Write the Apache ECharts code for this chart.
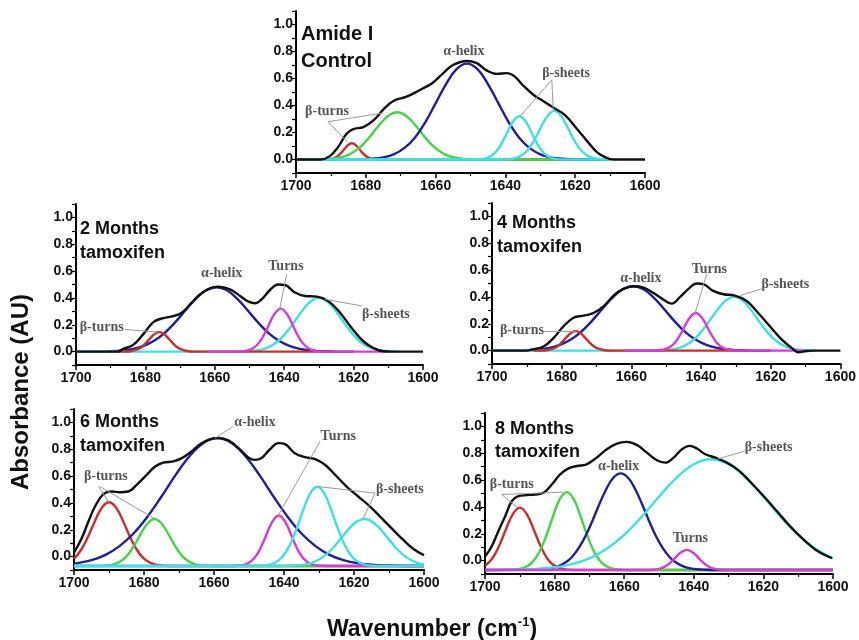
<!DOCTYPE html>
<html lang="en">
<head>
<meta charset="UTF-8">
<title>Amide I band fitting</title>
<style>
  html, body { margin: 0; padding: 0; background: #fff; }
  #main { width: 859px; height: 640px; }
</style>
</head>
<body>
<div id="main"></div>
<script src="https://cdn.jsdelivr.net/npm/echarts@6/dist/echarts.min.js"></script>
<script>
// ---- data: [wavenumber, absorbance] ----

// Amide I, control
const ctrlRed = [[1700,0],[1690,0],[1689,0.01],[1688,0.026],[1687,0.051],[1686,0.082],[1685,0.109],[1684,0.12],[1683,0.109],[1682,0.082],[1681,0.051],[1680,0.026],[1679,0.011],[1678,0.003],[1676,0],[1610,0]];
const ctrlGreen = [[1700,0],[1693,0.001],[1691,0.003],[1689,0.008],[1687,0.017],[1685,0.034],[1683,0.064],[1681,0.107],[1679,0.164],[1677,0.229],[1675,0.289],[1673,0.334],[1671,0.35],[1669,0.334],[1667,0.289],[1665,0.229],[1663,0.164],[1661,0.107],[1659,0.064],[1657,0.034],[1655,0.017],[1653,0.008],[1651,0.003],[1648,0],[1610,0]];
const ctrlBlue = [[1700,0],[1681,0.002],[1678,0.006],[1675,0.016],[1672,0.038],[1669,0.084],[1666,0.16],[1663,0.274],[1660,0.416],[1657,0.559],[1654,0.669],[1651,0.71],[1648,0.669],[1645,0.559],[1642,0.416],[1639,0.274],[1636,0.16],[1633,0.084],[1630,0.038],[1627,0.016],[1624,0.006],[1621,0.002],[1610,0]];
const ctrlCyan1 = [[1700,0],[1650,0],[1648,0.001],[1646,0.007],[1644,0.027],[1642,0.08],[1640,0.172],[1638,0.274],[1636,0.32],[1634,0.274],[1632,0.172],[1630,0.08],[1628,0.027],[1626,0.007],[1624,0.001],[1610,0]];
const ctrlCyan2 = [[1700,0],[1641,0],[1640,0.001],[1638,0.006],[1636,0.021],[1634,0.059],[1632,0.13],[1630,0.229],[1628,0.321],[1626,0.36],[1624,0.321],[1622,0.229],[1620,0.13],[1618,0.059],[1616,0.021],[1614,0.006],[1612,0.001],[1610,0]];
const ctrlSum = [[1700,0],[1693,0],[1690.3,0.025],[1688,0.09],[1685.5,0.19],[1683.6,0.225],[1680.7,0.24],[1677.8,0.29],[1675,0.37],[1672,0.435],[1668.3,0.465],[1664.5,0.515],[1661,0.565],[1657.8,0.64],[1655,0.70],[1651,0.73],[1648.2,0.714],[1645.4,0.66],[1642.5,0.634],[1639.6,0.64],[1637.3,0.614],[1635,0.55],[1632,0.48],[1629,0.43],[1626,0.38],[1623,0.33],[1619.6,0.23],[1616.7,0.14],[1613.8,0.055],[1611,0.012],[1609,0],[1600,0]];

// 2 months tamoxifen
const mo2Red = [[1688,0],[1686,0],[1684,0.004],[1682,0.02],[1681,0.036],[1680,0.06],[1679,0.088],[1678,0.116],[1677,0.137],[1676,0.145],[1675,0.137],[1674,0.116],[1673,0.088],[1672,0.06],[1671,0.036],[1670,0.02],[1668,0.004],[1666,0],[1626,0]];
const mo2Blue = [[1700,0],[1692,0],[1689.5,0.003],[1686.5,0.008],[1683.5,0.02],[1680.5,0.042],[1677.5,0.08],[1674.5,0.138],[1671.5,0.216],[1668.5,0.306],[1665.5,0.393],[1662.5,0.457],[1659.5,0.48],[1656.5,0.457],[1653.5,0.393],[1650.5,0.306],[1647.5,0.216],[1644.5,0.138],[1641.5,0.08],[1638.5,0.042],[1635.5,0.02],[1632.5,0.008],[1629.5,0.003],[1626,0],[1620,0]];
const mo2Magenta = [[1662,0],[1653,0],[1651,0.005],[1649,0.024],[1647,0.074],[1645,0.167],[1643,0.272],[1641,0.32],[1639,0.272],[1637,0.167],[1635,0.074],[1633,0.024],[1631,0.005],[1629,0],[1610,0]];
const mo2Cyan = [[1700,0],[1654,0],[1652,0.001],[1650,0.004],[1648,0.009],[1646,0.019],[1644,0.039],[1642,0.073],[1640,0.123],[1638,0.188],[1636,0.261],[1634,0.331],[1632,0.381],[1630,0.40],[1628,0.381],[1626,0.331],[1624,0.261],[1622,0.188],[1620,0.123],[1618,0.073],[1616,0.039],[1614,0.019],[1612,0.009],[1610,0.004],[1608,0.001],[1607,0]];
const mo2Sum = [[1700,0],[1688,0],[1686.4,0.02],[1683.5,0.05],[1680.6,0.13],[1677.7,0.22],[1674.8,0.25],[1672,0.264],[1669.5,0.29],[1666.7,0.364],[1664.3,0.426],[1661.4,0.471],[1659,0.484],[1655.6,0.464],[1652.7,0.414],[1650.3,0.372],[1648.4,0.36],[1646.5,0.39],[1644.1,0.459],[1641.7,0.50],[1639.8,0.496],[1636.9,0.44],[1634,0.414],[1630.6,0.41],[1627.3,0.376],[1623.9,0.29],[1620.6,0.177],[1617.2,0.077],[1614.3,0.027],[1611.4,0.002],[1609,0],[1600,0]];

// 4 months tamoxifen
const mo4Red = [[1688,0],[1686,0],[1684,0.004],[1682,0.02],[1681,0.036],[1680,0.06],[1679,0.088],[1678,0.116],[1677,0.137],[1676,0.145],[1675,0.137],[1674,0.116],[1673,0.088],[1672,0.06],[1671,0.036],[1670,0.02],[1668,0.004],[1666,0],[1626,0]];
const mo4Blue = [[1700,0],[1692,0],[1689.5,0.003],[1686.5,0.008],[1683.5,0.02],[1680.5,0.042],[1677.5,0.08],[1674.5,0.138],[1671.5,0.216],[1668.5,0.306],[1665.5,0.393],[1662.5,0.457],[1659.5,0.48],[1656.5,0.457],[1653.5,0.393],[1650.5,0.306],[1647.5,0.216],[1644.5,0.138],[1641.5,0.08],[1638.5,0.042],[1635.5,0.02],[1632.5,0.008],[1629.5,0.003],[1626,0],[1620,0]];
const mo4Magenta = [[1662,0],[1653,0],[1651.5,0.004],[1649.5,0.018],[1647.5,0.059],[1645.5,0.14],[1643.5,0.236],[1641.5,0.28],[1639.5,0.236],[1637.5,0.14],[1635.5,0.059],[1633.5,0.018],[1631.5,0.004],[1629,0],[1610,0]];
const mo4Cyan = [[1700,0],[1654.5,0],[1652.5,0.001],[1650.5,0.004],[1648.5,0.009],[1646.5,0.019],[1644.5,0.039],[1642.5,0.073],[1640.5,0.123],[1638.5,0.188],[1636.5,0.261],[1634.5,0.331],[1632.5,0.381],[1630.5,0.40],[1628.5,0.381],[1626.5,0.331],[1624.5,0.261],[1622.5,0.188],[1620.5,0.123],[1618.5,0.073],[1616.5,0.039],[1614.5,0.019],[1612.5,0.009],[1610.5,0.004],[1608.5,0.001],[1607,0]];
const mo4Sum = [[1700,0],[1690,0],[1688.5,0.008],[1685.2,0.03],[1682.3,0.095],[1679.5,0.18],[1676.6,0.245],[1673.7,0.26],[1670.9,0.28],[1668,0.33],[1665.1,0.41],[1662.3,0.46],[1659.4,0.48],[1656.5,0.47],[1653.7,0.43],[1650.8,0.38],[1648.4,0.35],[1646,0.40],[1643.6,0.46],[1641.3,0.50],[1639.4,0.495],[1636.5,0.445],[1633.6,0.42],[1630.3,0.41],[1626.9,0.37],[1623.6,0.28],[1620.2,0.18],[1616.9,0.083],[1614,0.02],[1612.1,-0.012],[1609.7,-0.003],[1607.4,0],[1600,0]];

// 6 months tamoxifen
const mo6Red = [[1700,-0.016],[1698,0.049],[1696,0.148],[1694,0.266],[1692,0.366],[1690,0.405],[1688,0.366],[1686,0.266],[1684,0.148],[1682,0.049],[1680,-0.016],[1678,-0.049],[1676,-0.063],[1674,-0.068],[1672,-0.07],[1600,-0.07]];
const mo6Green = [[1700,-0.07],[1693,-0.069],[1691,-0.067],[1689,-0.06],[1687,-0.04],[1685,0.002],[1683,0.074],[1681,0.166],[1679,0.247],[1677,0.28],[1675,0.247],[1673,0.166],[1671,0.074],[1669,0.002],[1667,-0.04],[1665,-0.06],[1663,-0.067],[1660,-0.07],[1600,-0.07]];
const mo6Blue = [[1700,-0.052],[1695,-0.026],[1691,0.013],[1687,0.078],[1683,0.172],[1679,0.298],[1675,0.448],[1671,0.607],[1667,0.748],[1663,0.847],[1659,0.883],[1655,0.847],[1651,0.748],[1647,0.607],[1643,0.448],[1639,0.298],[1635,0.172],[1631,0.078],[1627,0.013],[1623,-0.026],[1619,-0.049],[1615,-0.06],[1611,-0.066],[1605,-0.07],[1600,-0.07]];
const mo6Magenta = [[1700,-0.07],[1655,-0.07],[1653.5,-0.0685],[1651.5,-0.062],[1649.5,-0.038],[1647.5,0.024],[1645.5,0.133],[1643.5,0.252],[1641.5,0.306],[1639.5,0.252],[1637.5,0.133],[1635.5,0.024],[1633.5,-0.038],[1631.5,-0.062],[1629.5,-0.0685],[1627,-0.07],[1600,-0.07]];
const mo6Cyan1 = [[1700,-0.07],[1648.5,-0.07],[1646.5,-0.068],[1644.5,-0.062],[1642.5,-0.044],[1640.5,-0.003],[1638.5,0.078],[1636.5,0.2],[1634.5,0.347],[1632.5,0.471],[1630.5,0.52],[1628.5,0.471],[1626.5,0.347],[1624.5,0.2],[1622.5,0.078],[1620.5,-0.003],[1618.5,-0.044],[1616.5,-0.062],[1614.5,-0.068],[1612,-0.07],[1600,-0.07]];
const mo6Cyan2 = [[1700,-0.07],[1641,-0.07],[1638,-0.068],[1635,-0.062],[1632,-0.046],[1629,-0.006],[1626,0.064],[1623,0.159],[1620,0.245],[1617,0.28],[1614,0.245],[1611,0.159],[1608,0.064],[1605,-0.006],[1602,-0.046],[1600,-0.059]];
const mo6Sum = [[1700,0.03],[1697.8,0.137],[1695.9,0.26],[1694,0.373],[1691.6,0.465],[1689.2,0.485],[1686.9,0.48],[1684.5,0.485],[1682.1,0.535],[1679.2,0.61],[1676.9,0.67],[1674.5,0.70],[1671.6,0.71],[1669.2,0.734],[1666.4,0.784],[1664,0.838],[1661.1,0.876],[1658.8,0.883],[1655.9,0.866],[1653,0.808],[1650.2,0.739],[1648.3,0.721],[1646.4,0.734],[1644,0.80],[1641.6,0.846],[1639.7,0.838],[1636.9,0.771],[1634,0.741],[1631.1,0.726],[1628.3,0.684],[1625.4,0.61],[1622.1,0.522],[1618.8,0.448],[1615.4,0.373],[1612.1,0.286],[1608.8,0.199],[1605.9,0.124],[1603,0.057],[1600,0.01]];

// 8 months tamoxifen
const mo8Red = [[1700,-0.039],[1698,0.012],[1696,0.106],[1694,0.232],[1692,0.347],[1690,0.395],[1688,0.347],[1686,0.232],[1684,0.106],[1682,0.012],[1680,-0.039],[1678,-0.061],[1676,-0.068],[1673,-0.07],[1600,-0.07]];
const mo8Green = [[1700,-0.07],[1692.5,-0.068],[1690.5,-0.064],[1688.5,-0.051],[1686.5,-0.015],[1684.5,0.058],[1682.5,0.178],[1680.5,0.327],[1678.5,0.458],[1676.5,0.51],[1674.5,0.458],[1672.5,0.327],[1670.5,0.178],[1668.5,0.058],[1666.5,-0.015],[1664.5,-0.051],[1662.5,-0.064],[1660.5,-0.068],[1658,-0.07],[1600,-0.07]];
const mo8Blue = [[1700,-0.07],[1685,-0.068],[1683,-0.065],[1681,-0.058],[1679,-0.044],[1677,-0.017],[1675,0.027],[1673,0.096],[1671,0.189],[1669,0.305],[1667,0.429],[1665,0.541],[1663,0.621],[1661,0.65],[1659,0.621],[1657,0.541],[1655,0.429],[1653,0.305],[1651,0.189],[1649,0.096],[1647,0.027],[1645,-0.017],[1643,-0.044],[1641,-0.058],[1639,-0.065],[1637,-0.068],[1634,-0.07],[1600,-0.07]];
const mo8Cyan = [[1700,-0.07],[1695,-0.069],[1690,-0.067],[1685,-0.062],[1680,-0.05],[1675,-0.026],[1670,0.017],[1665,0.088],[1660,0.192],[1655,0.326],[1650,0.476],[1645,0.616],[1640,0.718],[1635,0.755],[1630,0.718],[1625,0.616],[1620,0.476],[1615,0.326],[1610,0.192],[1605,0.088],[1600,0.017]];
const mo8Magenta = [[1700,-0.07],[1653,-0.07],[1652,-0.0685],[1650,-0.062],[1648,-0.041],[1646,0.002],[1644,0.055],[1642,0.08],[1640,0.055],[1638,0.002],[1636,-0.041],[1634,-0.062],[1632,-0.0685],[1630,-0.07],[1600,-0.07]];
const mo8Sum = [[1700,0.03],[1698.1,0.105],[1696.2,0.2175],[1694.2,0.33],[1692.3,0.4425],[1690.4,0.48],[1688,0.4875],[1685.6,0.4925],[1683.2,0.505],[1680.8,0.5675],[1678.4,0.6425],[1676,0.6875],[1673.6,0.705],[1670.8,0.7175],[1667.9,0.7675],[1665,0.83],[1662.1,0.8725],[1659.3,0.885],[1656.4,0.8625],[1653.5,0.805],[1650.6,0.7475],[1648.2,0.73],[1645.8,0.7675],[1643.4,0.83],[1641.2,0.855],[1639.1,0.835],[1636.7,0.7925],[1633.8,0.7675],[1630.5,0.73],[1627.1,0.6725],[1623.8,0.5875],[1619.9,0.48],[1616.1,0.3675],[1612.3,0.255],[1608.4,0.155],[1604.6,0.0725],[1600.3,0.0175]];

// band labels [wavenumber, absorbance, text] and leader lines
const ctrlNotes = [[1691.1,0.36,'β-turns'],[1651.9,0.80,'α-helix'],[1622.6,0.64,'β-sheets']];
const ctrlLeaders = [[[1690.8,0.28],[1685.3,0.13]],[[1690.8,0.28],[1675,0.345]],[[1626.7,0.59],[1635.8,0.32]],[[1626.7,0.59],[1626.3,0.37]]];
const mo2Notes = [[1692.6,0.177,'β-turns'],[1658,0.58,'α-helix'],[1639.5,0.638,'Turns'],[1610.7,0.277,'β-sheets']];
const mo2Leaders = [[[1686,0.165],[1676.5,0.145]],[[1639.3,0.576],[1641.3,0.32]],[[1617.6,0.34],[1628.3,0.39]]];
const mo4Notes = [[1691.4,0.15,'β-turns'],[1657.3,0.5375,'α-helix'],[1637.6,0.6075,'Turns'],[1615.8,0.495,'β-sheets']];
const mo4Leaders = [[[1685.2,0.145],[1676.1,0.145]],[[1638.4,0.57],[1641.7,0.28]],[[1622.6,0.46],[1628.8,0.41]]];
const mo6Notes = [[1690.9,0.597,'β-turns'],[1648.3,1.0,'α-helix'],[1624.5,0.896,'Turns'],[1606.9,0.4975,'β-sheets']];
const mo6Leaders = [[[1693,0.522],[1690.2,0.41]],[[1692.6,0.522],[1676.9,0.281]],[[1654.5,0.97],[1659.7,0.883]],[[1629.7,0.858],[1641.6,0.31]],[[1614,0.473],[1630.2,0.522]],[[1614,0.473],[1617.3,0.286]]];
const mo8Notes = [[1692.3,0.5675,'β-turns'],[1661.6,0.705,'α-helix'],[1641,0.1625,'Turns'],[1618.5,0.8425,'β-sheets']];
const mo8Leaders = [[[1695.2,0.4925],[1690.7,0.395]],[[1695.2,0.4925],[1677.5,0.51]],[[1625.2,0.8175],[1633.4,0.755]]];

const panelTitles = ['Amide I\nControl', '2 Months\ntamoxifen', '4 Months\ntamoxifen', '6 Months\ntamoxifen', '8 Months\ntamoxifen'];
const xTicks = [1600, 1700, 20];
const yTicks = [-0.1, 1.1, 0.1];

// ---- chart ----
var RED = '#c8302c', GREEN = '#44d444', BLUE = '#1f1f9a', CYAN = '#3fe0e4', MAGENTA = '#d83ad8', BLACK = '#111';
var SANS = 'Liberation Sans, Arial, sans-serif';
var SERIF = 'Liberation Serif, Times New Roman, serif';

var chartDom = document.getElementById('main');
var myChart = echarts.init(chartDom, null, { renderer: 'canvas' });

var grids = [
  { left: 296, top: 11, width: 349, height: 162 },
  { left: 76, top: 204, width: 347, height: 161 },
  { left: 492, top: 203, width: 349, height: 161 },
  { left: 74, top: 409, width: 350, height: 161 },
  { left: 485, top: 413, width: 348, height: 161 }
];

var xAxes = grids.map(function (g, i) {
  return {
    type: 'value', gridIndex: i, inverse: true,
    min: xTicks[0], max: xTicks[1], interval: xTicks[2],
    axisLine: { onZero: false, lineStyle: { color: '#000', width: 2 } },
    axisTick: { length: 5, lineStyle: { color: '#000', width: 1.5 } },
    minorTick: { show: true, splitNumber: 2, length: 3, lineStyle: { color: '#000', width: 1.2 } },
    axisLabel: {
      fontFamily: SANS, fontWeight: 'bold', fontSize: 14, color: '#111', margin: 6,
      formatter: function (v) { return String(v); }
    },
    splitLine: { show: false }
  };
});

var yAxes = grids.map(function (g, i) {
  return {
    type: 'value', gridIndex: i,
    min: yTicks[0], max: yTicks[1], interval: yTicks[2],
    axisLine: { show: true, onZero: false, lineStyle: { color: '#000', width: 2 } },
    axisTick: { length: 4, lineStyle: { color: '#000', width: 1.2 } },
    axisLabel: {
      fontFamily: SANS, fontWeight: 'bold', fontSize: 14, color: '#111', margin: 3,
      formatter: function (v) {
        var k = Math.round(v * 10);
        return (k >= 0 && k <= 10 && k % 2 === 0) ? (k / 10).toFixed(1) : '';
      }
    },
    splitLine: { show: false }
  };
});

function curve(data, color, i) {
  return {
    type: 'line', xAxisIndex: i, yAxisIndex: i, data: data,
    smooth: 0.4, symbol: 'none', silent: true,
    lineStyle: { color: color, width: 2.4 }, itemStyle: { color: color }
  };
}
function notes(list, i) {
  return {
    type: 'scatter', xAxisIndex: i, yAxisIndex: i, symbolSize: 0, silent: true, z: 5,
    data: list.map(function (n) { return { value: [n[0], n[1]], name: n[2] }; }),
    label: {
      show: true, position: 'inside', formatter: function (p) { return p.name; },
      fontFamily: SERIF, fontWeight: 'bold', fontSize: 14, color: '#2a2a2a'
    }
  };
}
function leaders(list, i) {
  return {
    type: 'lines', coordinateSystem: 'cartesian2d', xAxisIndex: i, yAxisIndex: i, silent: true, z: 4,
    data: list.map(function (c) { return { coords: c }; }),
    lineStyle: { color: '#9a9a9a', width: 1, opacity: 1, curveness: 0 }
  };
}

var series = [
  curve(ctrlRed, RED, 0), curve(ctrlGreen, GREEN, 0), curve(ctrlBlue, BLUE, 0),
  curve(ctrlCyan1, CYAN, 0), curve(ctrlCyan2, CYAN, 0), curve(ctrlSum, BLACK, 0),
  leaders(ctrlLeaders, 0), notes(ctrlNotes, 0),

  curve(mo2Blue, BLUE, 1), curve(mo2Cyan, CYAN, 1), curve(mo2Red, RED, 1),
  curve(mo2Magenta, MAGENTA, 1), curve(mo2Sum, BLACK, 1),
  leaders(mo2Leaders, 1), notes(mo2Notes, 1),

  curve(mo4Blue, BLUE, 2), curve(mo4Cyan, CYAN, 2), curve(mo4Red, RED, 2),
  curve(mo4Magenta, MAGENTA, 2), curve(mo4Sum, BLACK, 2),
  leaders(mo4Leaders, 2), notes(mo4Notes, 2),

  curve(mo6Red, RED, 3), curve(mo6Green, GREEN, 3), curve(mo6Blue, BLUE, 3),
  curve(mo6Magenta, MAGENTA, 3), curve(mo6Cyan1, CYAN, 3), curve(mo6Cyan2, CYAN, 3),
  curve(mo6Sum, BLACK, 3),
  leaders(mo6Leaders, 3), notes(mo6Notes, 3),

  curve(mo8Red, RED, 4), curve(mo8Green, GREEN, 4), curve(mo8Blue, BLUE, 4),
  curve(mo8Cyan, CYAN, 4), curve(mo8Magenta, MAGENTA, 4), curve(mo8Sum, BLACK, 4),
  leaders(mo8Leaders, 4), notes(mo8Notes, 4)
];

var titlePos = [[301, 21, 20, 27], [80, 217, 18, 24], [497, 211, 18, 24], [80, 410, 18, 24], [495, 418, 18, 23]];
var titles = panelTitles.map(function (t, i) {
  var p = titlePos[i];
  return {
    text: t, left: p[0], top: p[1], padding: 0,
    textStyle: { fontFamily: SANS, fontWeight: 'bold', fontSize: p[2], lineHeight: p[3], color: '#111' }
  };
});

var option = {
  animation: false,
  backgroundColor: '#fff',
  title: titles,
  grid: grids,
  xAxis: xAxes,
  yAxis: yAxes,
  series: series,
  graphic: [
    {
      type: 'text', x: 21, y: 392, rotation: Math.PI / 2,
      style: {
        text: 'Absorbance (AU)', fontFamily: SANS, fontWeight: 'bold', fontSize: 24,
        fill: '#111', align: 'center', verticalAlign: 'middle'
      }
    },
    {
      type: 'text', x: 432, y: 630,
      style: {
        text: '{a|Wavenumber (cm}{s|-1}{a|)}',
        align: 'center', verticalAlign: 'middle', fill: '#111',
        rich: {
          a: { fontFamily: SANS, fontWeight: 'bold', fontSize: 23, lineHeight: 28, fill: '#111' },
          s: { fontFamily: SANS, fontWeight: 'bold', fontSize: 13, lineHeight: 13, verticalAlign: 'top', fill: '#111' }
        }
      }
    }
  ]
};

option && myChart.setOption(option);
</script>
</body>
</html>
